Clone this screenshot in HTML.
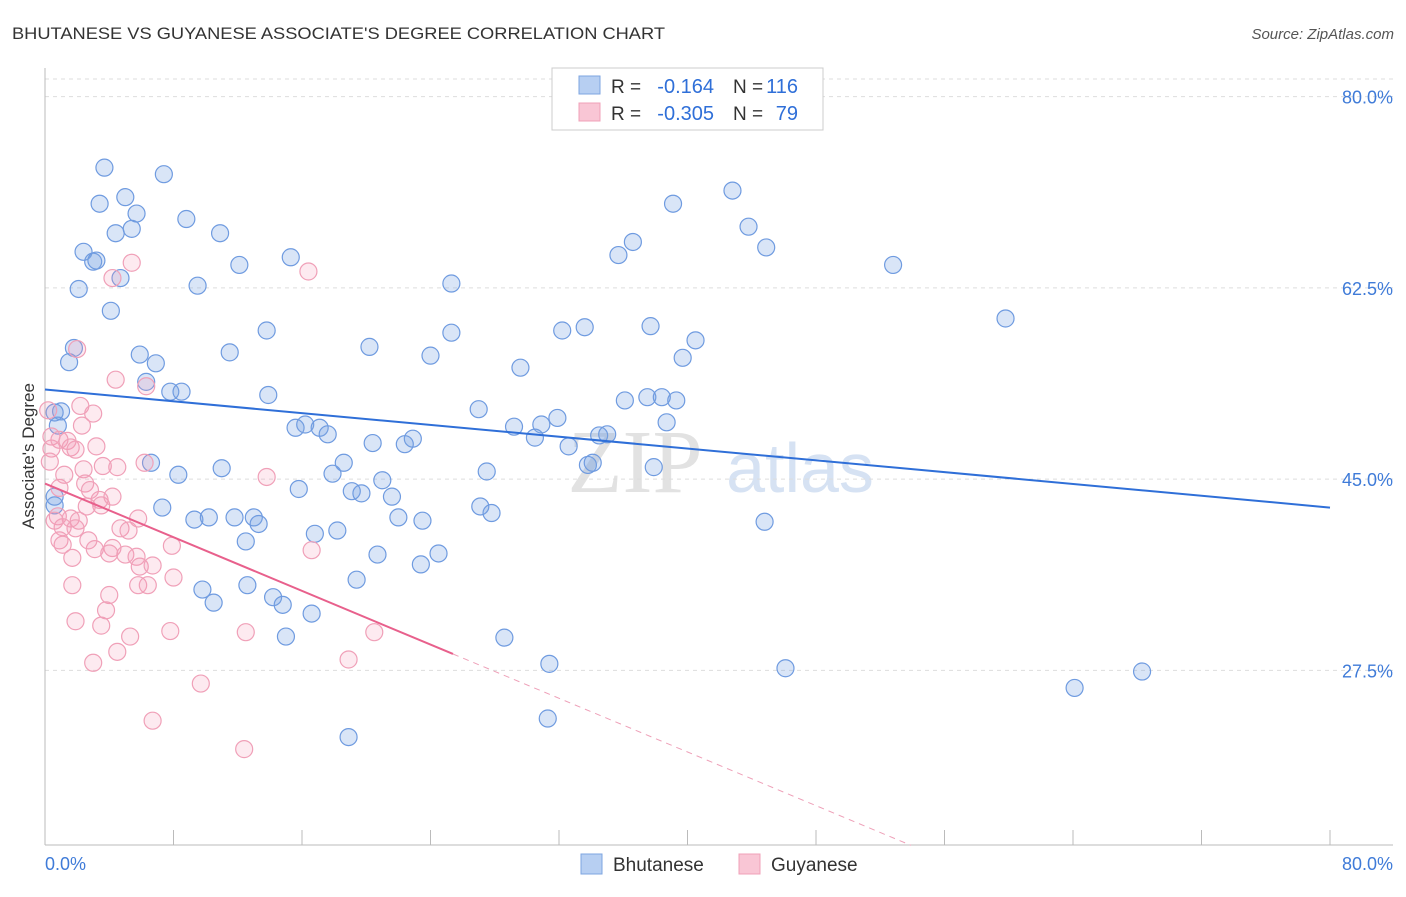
<!DOCTYPE html>
<html><head><meta charset="utf-8"><style>
body{margin:0;background:#fff;font-family:"Liberation Sans",sans-serif}
</style></head><body>
<svg id="c" width="1406" height="892" xmlns="http://www.w3.org/2000/svg" font-family="Liberation Sans, sans-serif">
<text x="12" y="39" font-size="17" fill="#333" textLength="653" lengthAdjust="spacingAndGlyphs">BHUTANESE VS GUYANESE ASSOCIATE'S DEGREE CORRELATION CHART</text>
<text x="1394" y="39" font-size="15" fill="#555" text-anchor="end" font-style="italic">Source: ZipAtlas.com</text>
<text x="34" y="456" font-size="17" fill="#333" text-anchor="middle" transform="rotate(-90 34 456)">Associate's Degree</text>
<text x="635" y="492" font-size="90" fill="#e2e2e2" font-family="Liberation Serif, serif" text-anchor="middle">ZIP</text>
<text x="800" y="492" font-size="70" fill="#d6e2f3" text-anchor="middle">atlas</text>
<g id="grid"></g><g id="marks"></g>
<g>
<rect x="552" y="68" width="271" height="62" fill="#fff" stroke="#ccc"/>
<rect x="579" y="76" width="21" height="18" fill="#b7cff2" stroke="#7ea5e0"/>
<rect x="579" y="103" width="21" height="18" fill="#f9c6d5" stroke="#f0a0b8"/>
<text x="611" y="93" font-size="19" fill="#333">R =</text>
<text x="714" y="93" font-size="20" fill="#2f6fd8" text-anchor="end">-0.164</text>
<text x="733" y="93" font-size="19" fill="#333">N =</text>
<text x="798" y="93" font-size="20" fill="#2f6fd8" text-anchor="end">116</text>
<text x="611" y="120" font-size="19" fill="#333">R =</text>
<text x="714" y="120" font-size="20" fill="#2f6fd8" text-anchor="end">-0.305</text>
<text x="733" y="120" font-size="19" fill="#333">N =</text>
<text x="798" y="120" font-size="20" fill="#2f6fd8" text-anchor="end">79</text>
</g>
<g>
<rect x="581" y="854" width="21" height="20" fill="#b7cff2" stroke="#7ea5e0"/>
<text x="613" y="871" font-size="19" fill="#333">Bhutanese</text>
<rect x="739" y="854" width="21" height="20" fill="#f9c6d5" stroke="#f0a0b8"/>
<text x="771" y="871" font-size="19" fill="#333">Guyanese</text>
</g>
</svg>
<script>
const yTicks=[80,62.5,45,27.5];
const yTickLabels=["80.0%","62.5%","45.0%","27.5%"];
const xTicks=[0,10,20,30,40,50,60,70,80,90,100].map(i=>i*0.8);
const blueX=[3.7,7.4,3.4,5.0,5.7,8.8,4.4,5.4,10.9,2.4,3.0,3.2,12.1,15.3,2.1,4.7,9.5,4.1,25.3,13.8,1.8,1.5,5.9,6.9,11.5,20.2,25.3,24.0,29.6,32.2,33.6,37.7,40.5,39.7,35.7,36.6,39.1,42.8,43.8,44.9,52.8,59.8,6.3,7.8,8.5,13.9,1.0,0.8,0.6,27.0,36.1,37.5,38.4,39.3,38.7,31.9,30.9,29.2,30.5,32.6,34.5,35.0,15.6,16.2,17.1,17.6,20.4,22.9,22.4,6.6,8.3,11.0,18.6,17.9,19.1,19.7,21.0,21.6,27.5,33.8,34.1,37.9,27.1,27.8,7.3,9.3,10.2,11.8,13.0,13.3,12.5,15.8,16.8,18.2,22.0,23.5,20.7,23.4,24.5,19.4,9.8,10.5,12.6,14.2,14.8,16.6,15.0,28.6,31.4,46.1,64.1,68.3,31.3,18.9,44.8,0.6,0.6];
const blueY=[73.5,72.9,70.2,70.8,69.3,68.8,67.5,67.9,67.5,65.8,64.9,65.0,64.6,65.3,62.4,63.4,62.7,60.4,62.9,58.6,57.0,55.7,56.4,55.6,56.6,57.1,58.4,56.3,55.2,58.6,58.9,59.0,57.7,56.1,65.5,66.7,70.2,71.4,68.1,66.2,64.6,59.7,53.9,53.0,53.0,52.7,51.2,49.9,51.1,51.4,52.2,52.5,52.5,52.2,50.2,50.6,50.0,49.8,48.8,48.0,49.0,49.1,49.7,50.0,49.7,49.1,48.3,48.7,48.2,46.5,45.4,46.0,46.5,45.5,43.9,43.7,44.9,43.4,45.7,46.3,46.5,46.1,42.5,41.9,42.4,41.3,41.5,41.5,41.5,40.9,39.3,44.1,40.0,40.3,41.5,41.2,38.1,37.2,38.2,35.8,34.9,33.7,35.3,34.2,33.5,32.7,30.6,30.5,28.1,27.7,25.9,27.4,23.1,21.4,41.1,42.6,43.4];
const pinkX=[5.4,4.2,16.4,2.0,4.4,6.3,2.2,3.0,0.2,0.4,0.9,1.4,1.6,1.9,0.4,2.3,3.2,0.3,1.2,2.4,3.6,4.5,6.2,13.8,0.9,2.5,2.8,3.4,3.5,2.6,0.8,1.6,1.1,2.1,4.2,5.8,4.7,5.2,0.9,1.1,1.9,2.7,3.1,4.2,5.0,5.7,5.9,6.7,7.9,16.6,1.7,4.0,5.8,6.4,8.0,1.7,4.0,3.8,1.9,3.5,5.3,7.8,12.5,20.5,4.5,3.0,18.9,9.7,6.7,12.4,0.6];
const pinkY=[64.8,63.4,64.0,56.9,54.1,53.5,51.7,51.0,51.3,48.9,48.6,48.5,47.9,47.7,47.8,49.9,48.0,46.6,45.4,45.9,46.2,46.1,46.5,45.2,44.2,44.6,44.0,43.1,42.6,42.5,41.6,41.4,40.6,41.2,43.4,41.4,40.5,40.3,39.4,39.0,40.5,39.4,38.6,38.7,38.1,37.9,37.0,37.1,38.9,38.5,37.8,38.2,35.3,35.3,36.0,35.3,34.4,33.0,32.0,31.6,30.6,31.1,31.0,31.0,29.2,28.2,28.5,26.3,22.9,20.3,41.2];
const blueTrend=[53.2,42.4];
const pinkTrend=[44.6,-0.614];
const pinkSolidEnd=25.4;

const NS="http://www.w3.org/2000/svg";
const X=v=>45+v*1285/80;
const Y=v=>971-v*10.93;
function mk(t,a,p){const e=document.createElementNS(NS,t);for(const k in a)e.setAttribute(k,a[k]);p.appendChild(e);return e;}
const g=document.getElementById('grid'), m=document.getElementById('marks');
mk('line',{x1:45,y1:79,x2:1393,y2:79,stroke:'#ddd','stroke-dasharray':'4 4'},g);
yTicks.forEach((t,i)=>{
 const l=mk('line',{x1:45,y1:Y(t),x2:1393,y2:Y(t),stroke:'#ddd','stroke-dasharray':'4 4'},g);
 
 
 const tx=mk('text',{x:1393,y:Y(t)+7,'font-size':18,fill:'#3f7bd8','text-anchor':'end'},g);
 tx.textContent=yTickLabels[i];
 
 
});
const ax=mk('line',{x1:45,y1:845,x2:1393,y2:845,stroke:'#bbb'},g);


const ay=mk('line',{x1:45,y1:68,x2:45,y2:845,stroke:'#bbb'},g);


xTicks.forEach(t=>{
 const l=mk('line',{x1:X(t),y1:830,x2:X(t),y2:845,stroke:'#bbb'},g);
 
 
});
const xl=mk('text',{x:45,y:870,'font-size':18,fill:'#3f7bd8'},g);xl.textContent='0.0%';


const xr=mk('text',{x:1393,y:870,'font-size':18,fill:'#3f7bd8','text-anchor':'end'},g);xr.textContent='80.0%';



blueX.forEach((x,i)=>{
 const c=mk('circle',{cx:X(x),cy:Y(blueY[i]),r:8.5,fill:'rgba(120,160,225,0.28)',stroke:'#6f9be0','stroke-width':1.2},m);
 
 
});
pinkX.forEach((x,i)=>{
 const c=mk('circle',{cx:X(x),cy:Y(pinkY[i]),r:8.5,fill:'rgba(245,150,180,0.2)',stroke:'#f0a0b8','stroke-width':1.2},m);
 
 
});
const bl=mk('line',{x1:X(0),y1:Y(blueTrend[0]),x2:X(80),y2:Y(blueTrend[1]),stroke:'#2f6fd8','stroke-width':2},m);


const pf=x=>pinkTrend[0]+pinkTrend[1]*x;
const pl=mk('line',{x1:X(0),y1:Y(pf(0)),x2:X(pinkSolidEnd),y2:Y(pf(pinkSolidEnd)),stroke:'#e8608c','stroke-width':2},m);


const xEnd=(pinkTrend[0]-11.5)/-pinkTrend[1];
const pd=mk('line',{x1:X(pinkSolidEnd),y1:Y(pf(pinkSolidEnd)),x2:X(xEnd),y2:Y(pf(xEnd)),stroke:'#eea0b8','stroke-width':1,'stroke-dasharray':'6 5'},m);


</script>
</body></html>
